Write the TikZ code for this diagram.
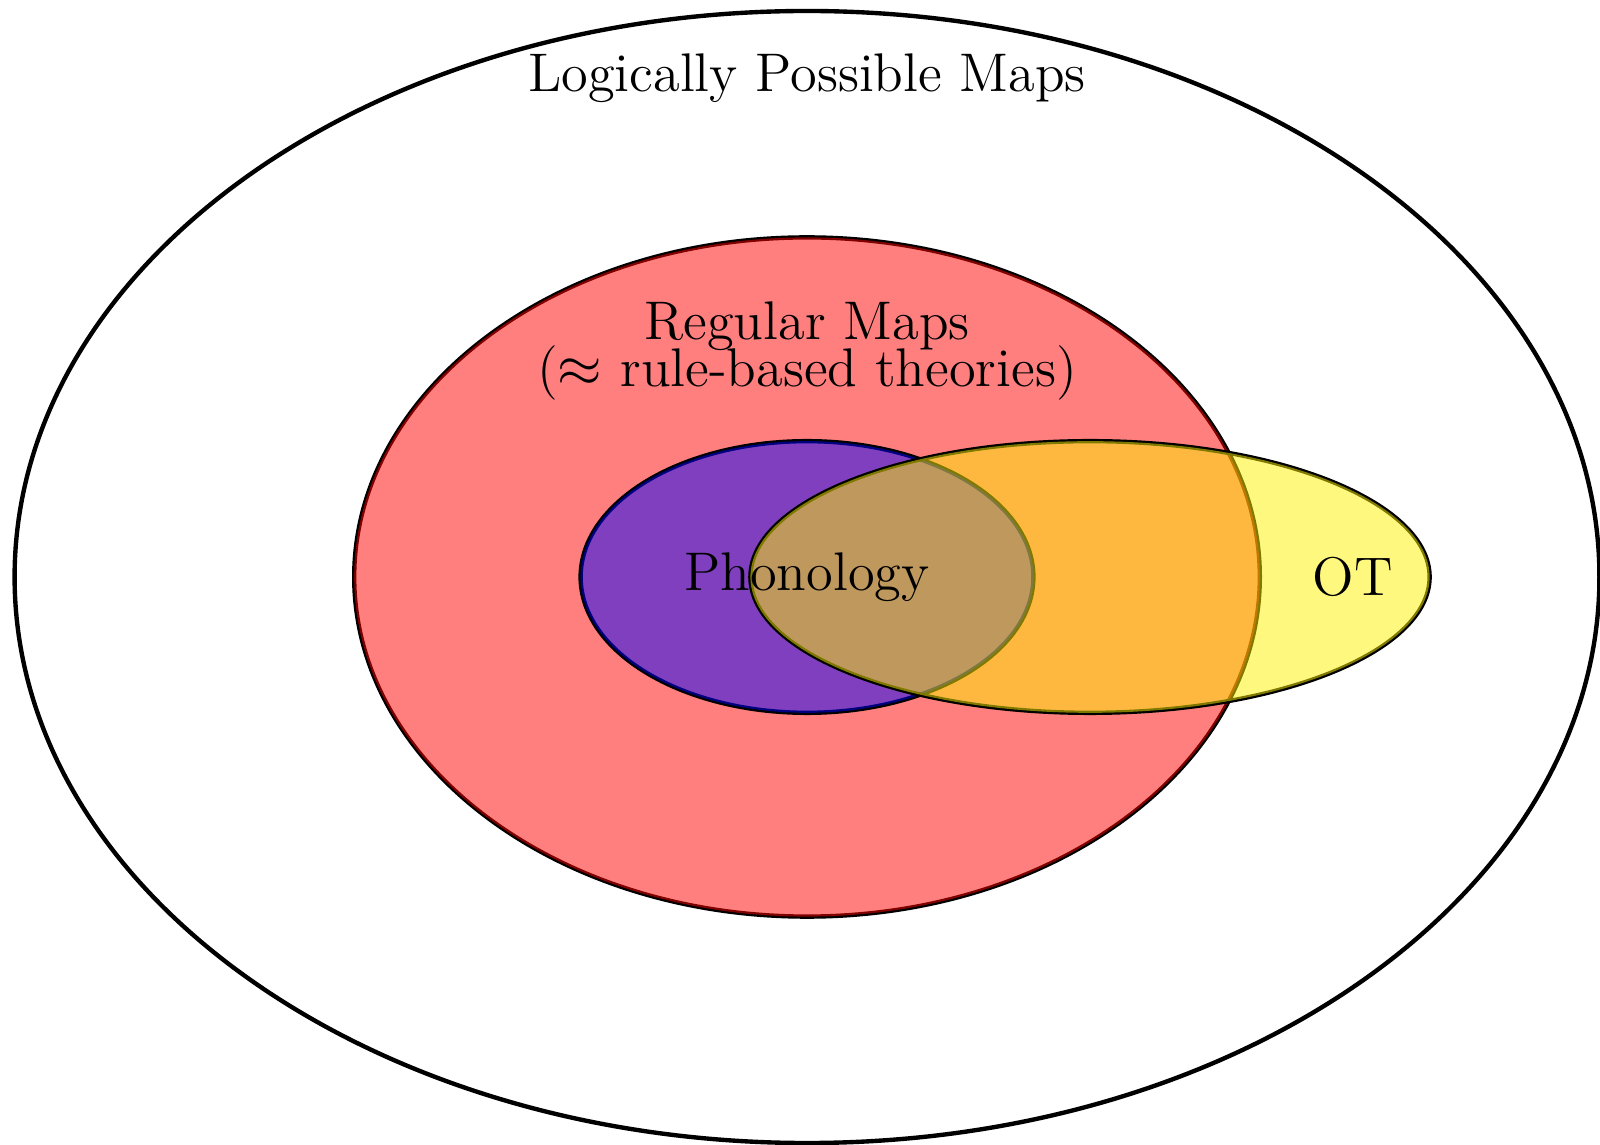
\documentclass[tikz,border=0pt]{standalone}
\begin{document}
\tikzset{
  setline/.style={draw=black, line width=1.1pt},
  setfill/.style={fill=#1, opacity=0.5},
  lbl/.style={font=\fontsize{13.68}{16.4}\selectfont, inner sep=0pt, align=center}
}
\begin{tikzpicture}
\useasboundingbox (-7.129,-5.009) rectangle (7.005,5.097);
% outer set
\draw[setline] (0,0) ellipse [x radius=7, y radius=5];
% regular maps
\draw[setline] (0,0) ellipse [x radius=4, y radius=3];
\fill[setfill=red] (0,0) ellipse [x radius=4, y radius=3];
% phonology
\draw[setline] (0,0) ellipse [x radius=2, y radius=1.2];
\fill[setfill=blue] (0,0) ellipse [x radius=2, y radius=1.2];
% OT
\draw[setline] (2.5,0) ellipse [x radius=3, y radius=1.2];
\fill[setfill=yellow] (2.5,0) ellipse [x radius=3, y radius=1.2];
% labels
\node[lbl] (lpm) at (0,4.41) {Logically Possible Maps};
\node[lbl] (reg) at (0,2.0) {Regular Maps\\[-4.6pt]($\approx$ rule-based theories)};
\node[lbl] (pho) at (0,0) {Phonology};
\node[lbl] (ot) at (4.82,0) {OT};
\end{tikzpicture}
\end{document}
